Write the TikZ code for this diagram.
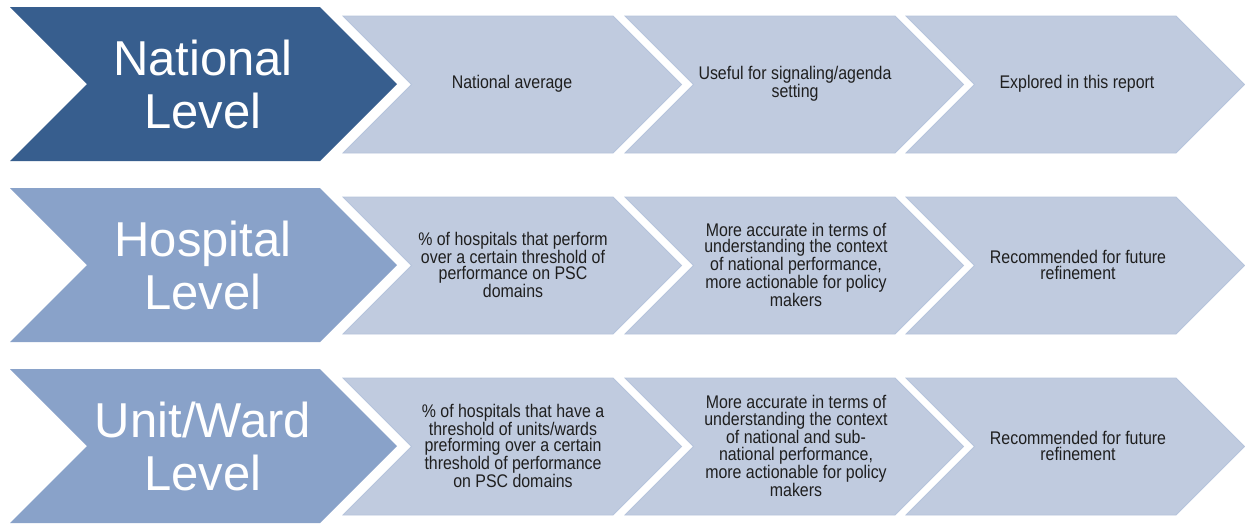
\documentclass[tikz,border=0pt]{standalone}
\usepackage{fontspec}
\setmainfont{Liberation Sans}
\newfontfamily\smallf[FakeStretch=0.87]{Liberation Sans}
\definecolor{darkblue}{RGB}{55,94,142}
\definecolor{midblue}{RGB}{137,162,201}
\definecolor{lightblue}{RGB}{192,203,223}
\definecolor{lightedge}{RGB}{182,196,220}
\tikzset{
  bigtext/.style={text=white, font=\fontsize{49}{53}\selectfont, align=center, inner sep=0pt},
  smalltext/.style={text=black!88, font=\smallf\fontsize{18.3}{16.5}\selectfont, align=center, inner sep=0pt},
  darkchev/.style={fill=darkblue},
  midchev/.style={fill=midblue},
  lightchev/.style={fill=lightblue, draw=lightedge, line width=0.8pt, line join=miter},
}
% #1 style, #2 left x, #3 top y, #4 body width, #5 height
\newcommand{\chevshape}[5]{%
  \path[#1] (#2,#3) -- ++(#4,0) -- ++(#5/2,#5/2) -- ++(-#5/2,#5/2) -- ++(-#4,0) -- ++(#5/2,-#5/2) -- cycle;}
\begin{document}
\begin{tikzpicture}[x=1pt,y=-1pt]
\useasboundingbox[fill=white] (0,0) rectangle (1245,523);
% ---------- row 1 ----------
\chevshape{darkchev}{10}{7}{310}{154}
\chevshape{lightchev}{343}{16}{270}{137}
\chevshape{lightchev}{625}{16}{270}{137}
\chevshape{lightchev}{906}{16}{270}{137}
\node[bigtext] (n1) at (203,84) {National\\Level};
\node[smalltext] (a1) at (512,84) {National average};
\node[smalltext] (b1) at (795,84) {Useful for signaling/agenda\\setting};
\node[smalltext] (c1) at (1077,84) {Explored in this report};
% ---------- row 2 ----------
\chevshape{midchev}{10}{188}{310}{154}
\chevshape{lightchev}{343}{197}{270}{137}
\chevshape{lightchev}{625}{197}{270}{137}
\chevshape{lightchev}{906}{197}{270}{137}
\node[bigtext] (n2) at (203,265) {Hospital\\Level};
\node[smalltext] (a2) at (513,265) {\% of hospitals that perform\\over  a certain threshold of\\performance on PSC\\domains};
\node[smalltext] (b2) at (796,265) {More accurate in terms of\\understanding the context\\of national performance,\\more actionable for policy\\makers};
\node[smalltext] (c2) at (1078,265) {Recommended for future\\refinement};
% ---------- row 3 ----------
\chevshape{midchev}{10}{369}{310}{154}
\chevshape{lightchev}{343}{378}{270}{137}
\chevshape{lightchev}{625}{378}{270}{137}
\chevshape{lightchev}{906}{378}{270}{137}
\node[bigtext] (n3) at (203,446) {Unit/Ward\\Level};
\node[smalltext] (a3) at (513,446) {\% of hospitals that have a\\threshold of units/wards\\preforming over  a certain\\threshold of performance\\on PSC domains};
\node[smalltext] (b3) at (796,446) {More accurate in terms of\\understanding the context\\of national and sub-\\national performance,\\more actionable for policy\\makers};
\node[smalltext] (c3) at (1078,446) {Recommended for future\\refinement};
\end{tikzpicture}
\end{document}
